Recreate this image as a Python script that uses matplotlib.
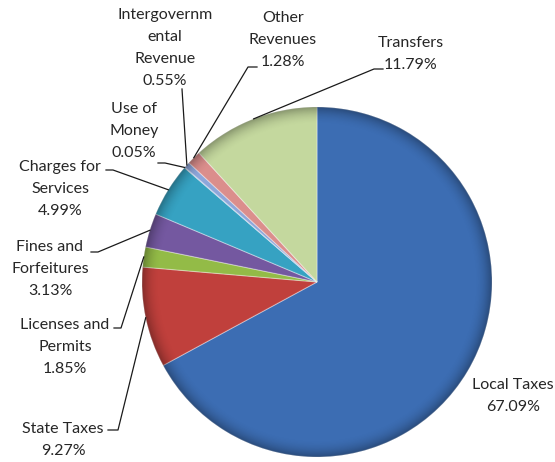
import numpy as np
import matplotlib
matplotlib.use("Agg")
import matplotlib.pyplot as plt
from matplotlib.patches import Circle

# Revenue shares (percent), in clockwise order starting at 12 o'clock
categories = ["Local Taxes", "State Taxes", "Licenses and Permits",
              "Fines and Forfeitures", "Charges for Services", "Use of Money",
              "Intergovernmental Revenue", "Other Revenues", "Transfers"]
shares = [67.09, 9.27, 1.85, 3.13, 4.99, 0.05, 0.55, 1.28, 11.79]
label_texts = ["Local Taxes", "State Taxes", "Licenses and\nPermits",
               "Fines and\nForfeitures", "Charges for\nServices", "Use of\nMoney",
               "Intergovernm\nental\nRevenue", "Other\nRevenues", "Transfers"]
colors = ["#3C6DB3", "#C0403C", "#93BB47", "#7458A0", "#36A2C2",
          "#6E8CC8", "#8EA6DA", "#DB8E8C", "#C4D89E"]

W, H = 555, 462
fig = plt.figure(figsize=(W / 100, H / 100), dpi=100)
ax = fig.add_axes([0, 0, 1, 1])
ax.set_xlim(0, W)
ax.set_ylim(0, H)
ax.set_aspect("equal")
ax.axis("off")


def px(x, y):
    """Convert top-left pixel coordinates to axes data coordinates."""
    return x, H - y


cx, cy = px(317, 282)
R = 175
wedges, _ = ax.pie(shares, colors=colors, startangle=90, counterclock=False,
                   center=(cx, cy), radius=R, frame=False,
                   wedgeprops=dict(edgecolor=(1, 1, 1, 0.35), linewidth=0.8))
ax.set_xlim(0, W)
ax.set_ylim(0, H)

# Soft bevel: darken toward the rim, clipped to the pie disc
n = 400
gx, gy = np.meshgrid(np.linspace(cx - R, cx + R, n), np.linspace(cy - R, cy + R, n))
rr = np.hypot(gx - cx, gy - cy) / R
shade = np.zeros((n, n, 4))
alpha = np.clip((rr - 0.90) / 0.10, 0, 1) ** 2 * 0.30
shade[..., 3] = alpha
img = ax.imshow(shade, extent=(cx - R, cx + R, cy - R, cy + R), origin="lower",
                zorder=3, interpolation="bilinear")
img.set_clip_path(Circle((cx, cy), R, transform=ax.transData))
ax.set_xlim(0, W)
ax.set_ylim(0, H)

# Label placement (top-left pixel coordinates) and leader-line bends
label_pos = {
    "Local Taxes": (513, 396),
    "State Taxes": (63, 440),
    "Licenses and Permits": (65, 347),
    "Fines and Forfeitures": (50, 269),
    "Charges for Services": (60, 189),
    "Use of Money": (134, 131),
    "Intergovernmental Revenue": (165, 48),
    "Other Revenues": (283, 40),
    "Transfers": (411, 54),
}
leaders = {
    "State Taxes": [(118, 430), (108, 430)],
    "Licenses and Permits": [(121, 328), (114, 328)],
    "Fines and Forfeitures": [(98, 252), (91, 252)],
    "Charges for Services": [(113, 170), (106, 170)],
    "Use of Money": [(165, 163), (158, 163)],
    "Intergovernmental Revenue": [(182, 89)],
    "Other Revenues": [(248, 67), (257, 67)],
    "Transfers": [(374, 69), (383, 69)],
}

font = dict(family=["Lato", "DejaVu Sans"], size=11.5, color="#262626")

cum = 0.0
for name, txt, val in zip(categories, label_texts, shares):
    mid = cum + val / 2
    cum += val
    theta = np.deg2rad(90 - 360 * mid / 100)
    ex, ey = cx + R * np.cos(theta), cy + R * np.sin(theta)
    lx, ly = px(*label_pos[name])
    ax.text(lx, ly, f"{txt}\n{val:.2f}%", ha="center", va="center",
            linespacing=1.72, zorder=5, **font)
    if name in leaders:
        pts = [(ex, ey)] + [px(*p) for p in leaders[name]]
        xs, ys = zip(*pts)
        ax.plot(xs, ys, color="#1a1a1a", lw=0.9, zorder=4)

fig.savefig("out.png", dpi=100)
